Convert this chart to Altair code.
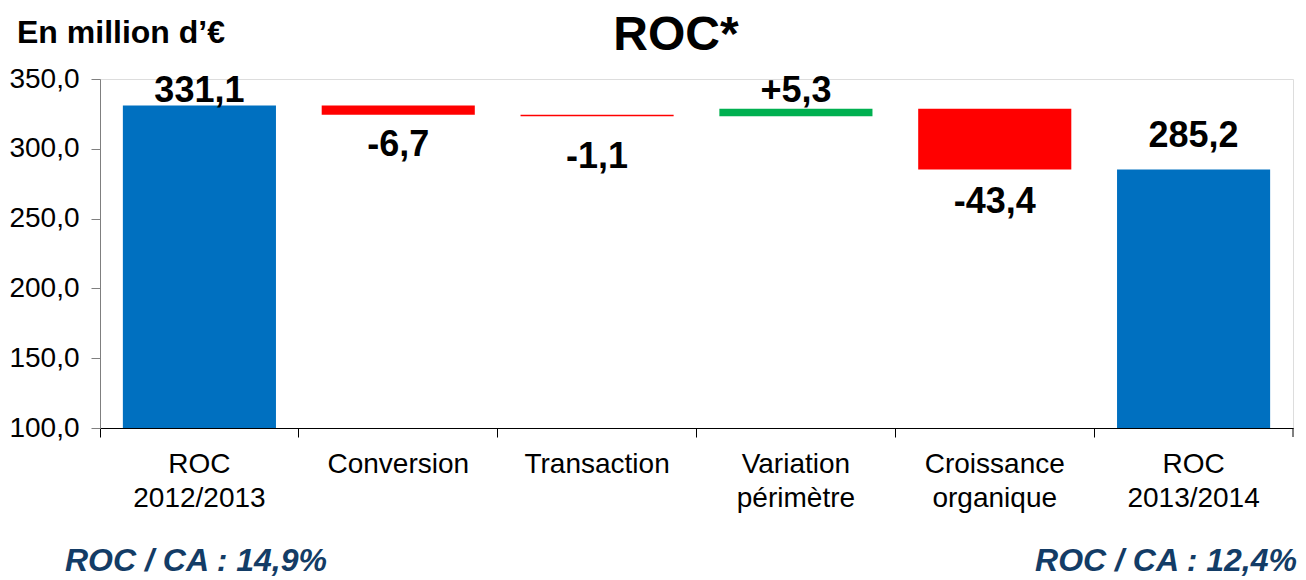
import altair as alt
import pandas as pd

# ---- data ----
categories = ["ROC|2012/2013", "Conversion", "Transaction", "Variation|périmètre",
              "Croissance|organique", "ROC|2013/2014"]
values = [331.1, -6.7, -1.1, 5.3, -43.4, 285.2]
kinds = ["total", "delta", "delta", "delta", "delta", "total"]
labels = ["331,1", "-6,7", "-1,1", "+5,3", "-43,4", "285,2"]
y_ticks = [100, 150, 200, 250, 300, 350]
title_text = "ROC*"
unit_text = "En million d\u2019\u20ac"
ratio_left = "ROC / CA : 14,9%"
ratio_right = "ROC / CA : 12,4%"

# ---- waterfall table ----
rows = []
running = 0.0
for c, v, k, l in zip(categories, values, kinds, labels):
    if k == "total":
        start, end = 0.0, v
        running = v
        t = "total"
    else:
        start, end = running, running + v
        running = end
        t = "pos" if v > 0 else "neg"
    rows.append({"cat": c, "start": start, "end": end, "type": t, "label": l,
                 "top": max(start, end), "bottom": min(start, end)})
df = pd.DataFrame(rows)

W, H = 1193, 349
FONT = "Liberation Sans"

x_enc = alt.X("cat:N", sort=categories,
              scale=alt.Scale(paddingInner=0, paddingOuter=0),
              axis=alt.Axis(title=None, labelAngle=0, labelFontSize=28, labelFont=FONT,
                            labelColor="black", labelExpr="split(datum.label, '|')",
                            labelLineHeight=34, labelBaseline="top", labelPadding=13,
                            tickSize=9, tickColor="black", domainColor="black",
                            bandPosition=0, labelBound=False, labelOverlap=False))
y_scale = alt.Scale(domain=[100, 350], clamp=True, nice=False, zero=False)

bars = alt.Chart(df).mark_bar(width=alt.RelativeBandSize(0.77)).encode(
    x=x_enc,
    y=alt.Y("start:Q", scale=y_scale,
            axis=alt.Axis(title=None, values=y_ticks, grid=False, labelFontSize=28,
                          labelFont=FONT, labelColor="black", tickSize=9,
                          tickColor="#7f7f7f", domainColor="#7f7f7f", labelPadding=12,
                          labelExpr="replace(format(datum.value, '.1f'), '.', ',')")),
    y2="end:Q",
    color=alt.Color("type:N", legend=None,
                    scale=alt.Scale(domain=["total", "neg", "pos"],
                                    range=["#0070C0", "#FF0000", "#00B050"])),
)

# label placement styles per category (above: y=top, below: y=bottom)
label_style = {
    categories[0]: ("top", -3),
    categories[1]: ("bottom", 41),
    categories[2]: ("bottom", 52),
    categories[3]: ("top", -7),
    categories[4]: ("bottom", 44),
    categories[5]: ("top", -22),
}
label_layers = []
for cat, (field, dy) in label_style.items():
    label_layers.append(
        alt.Chart(df).transform_filter(alt.datum.cat == cat).mark_text(
            font=FONT, fontSize=36, fontWeight="bold", color="black",
            baseline="alphabetic", align="center", dy=dy
        ).encode(x=alt.X("cat:N", sort=categories), y=alt.Y(f"{field}:Q", scale=y_scale),
                 text="label:N")
    )

# last category tick at right end of the axis
end_tick = alt.Chart(df.head(1)).mark_rule(color="black").encode(
    x=alt.value(W), y=alt.value(H), y2=alt.value(H + 9))

def note(text, x, y, size, align="left", color="black", style="normal"):
    return alt.Chart(pd.DataFrame({"t": [text]})).mark_text(
        font=FONT, fontSize=size, fontWeight="bold", fontStyle=style, color=color,
        align=align, baseline="alphabetic"
    ).encode(x=alt.value(x), y=alt.value(y), text="t:N")

title = note(title_text, 576, -29, 48, align="center")
unit = note(unit_text, -83, -36, 32)
left_ratio = note(ratio_left, -35, 492, 32, color="#133C66", style="italic")
right_ratio = note(ratio_right, W + 4, 492, 32, align="right", color="#133C66", style="italic")

chart = alt.layer(bars, *label_layers, end_tick, title, unit, left_ratio, right_ratio).properties(
    width=W, height=H,
    padding={"left": 92, "top": 71, "right": 5, "bottom": 150},
    autosize=alt.AutoSizeParams(type="none"),
).configure_view(stroke=None).configure(font=FONT)

chart.save("out.html", embed_options={"renderer": "svg", "actions": False})
